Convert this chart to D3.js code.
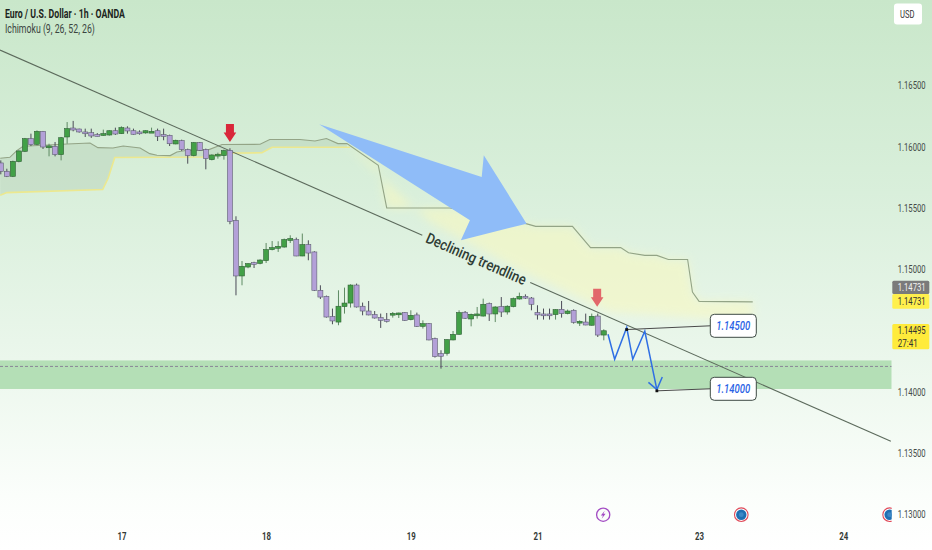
<!DOCTYPE html>
<html><head><meta charset="utf-8">
<script src="https://cdnjs.cloudflare.com/ajax/libs/d3/7.8.5/d3.min.js"></script>
<style>html,body{margin:0;padding:0;background:#fff;overflow:hidden}svg{display:block}
text{font-family:"Roboto","Noto Sans",sans-serif}</style>
</head><body><svg id="c" width="932" height="550"></svg>
<script>
const opens=[1.15864,1.15796,1.15755,1.15875,1.15959,1.16062,1.16016,1.16122,1.15994,1.16000,
1.15932,1.16076,1.16149,1.16141,1.16117,1.16111,1.16095,1.16098,1.16092,1.16127,
1.16103,1.16149,1.16127,1.16117,1.16109,1.16117,1.16127,1.16095,1.16089,1.16019,
1.16046,1.15973,1.15924,1.16030,1.15973,1.15891,1.15927,1.15924,1.15967,1.15396,
1.14942,1.15015,1.15051,1.15045,1.15067,1.15157,1.15168,1.15178,1.15235,1.15239,
1.15105,1.15198,1.15138,1.14825,1.14776,1.14611,1.14566,1.14692,1.14721,1.14868,
1.14695,1.14656,1.14627,1.14602,1.14586,1.14629,1.14629,1.14643,1.14586,1.14624,
1.14531,1.14553,1.14431,1.14309,1.14311,1.14420,1.14466,1.14646,1.14591,1.14619,
1.14615,1.14717,1.14632,1.14692,1.14648,1.14692,1.14754,1.14776,1.14762,1.14643,
1.14632,1.14632,1.14627,1.14670,1.14635,1.14662,1.14564,1.14566,1.14540,1.14615,1.14460];
const closes=[1.15796,1.15755,1.15877,1.15962,1.16062,1.16013,1.16122,1.15994,1.16003,1.15932,
1.16070,1.16144,1.16133,1.16117,1.16111,1.16084,1.16089,1.16103,1.16127,1.16100,
1.16152,1.16125,1.16098,1.16103,1.16127,1.16122,1.16081,1.16089,1.16021,1.16049,
1.15973,1.15924,1.16030,1.15967,1.15899,1.15929,1.15935,1.15965,1.15388,1.14942,
1.15021,1.15043,1.15037,1.15072,1.15157,1.15173,1.15184,1.15239,1.15247,1.15105,
1.15198,1.15129,1.14825,1.14770,1.14607,1.14575,1.14695,1.14721,1.14868,1.14689,
1.14656,1.14624,1.14599,1.14580,1.14580,1.14637,1.14640,1.14580,1.14621,1.14531,
1.14553,1.14420,1.14284,1.14287,1.14423,1.14466,1.14643,1.14597,1.14629,1.14632,
1.14711,1.14632,1.14689,1.14648,1.14695,1.14757,1.14776,1.14762,1.14711,1.14624,
1.14627,1.14627,1.14668,1.14635,1.14656,1.14564,1.14572,1.14542,1.14613,1.14460,1.14495];
const highs=[1.15885,1.15817,1.15883,1.15967,1.16068,1.16103,1.16130,1.16125,1.16021,1.16035,
1.16076,1.16198,1.16207,1.16144,1.16144,1.16144,1.16108,1.16136,1.16130,1.16152,
1.16163,1.16163,1.16144,1.16130,1.16130,1.16152,1.16144,1.16144,1.16095,1.16054,
1.16054,1.15981,1.16035,1.16035,1.15981,1.15935,1.15948,1.15973,1.15984,1.15429,
1.15064,1.15045,1.15058,1.15078,1.15211,1.15227,1.15225,1.15247,1.15274,1.15255,
1.15288,1.15233,1.15144,1.14866,1.14782,1.14676,1.14825,1.14847,1.14874,1.14880,
1.14725,1.14738,1.14656,1.14635,1.14640,1.14648,1.14643,1.14646,1.14662,1.14643,
1.14580,1.14558,1.14439,1.14336,1.14425,1.14493,1.14662,1.14656,1.14635,1.14689,
1.14757,1.14725,1.14695,1.14770,1.14703,1.14766,1.14806,1.14792,1.14770,1.14703,
1.14676,1.14676,1.14670,1.14738,1.14668,1.14670,1.14580,1.14635,1.14635,1.14635,1.14507];
const lows=[1.15771,1.15749,1.15749,1.15869,1.15953,1.16002,1.16008,1.15978,1.15918,1.15918,
1.15885,1.16021,1.16122,1.16111,1.16076,1.16068,1.16081,1.16087,1.16087,1.16092,
1.16100,1.16103,1.16095,1.16095,1.16103,1.16114,1.16043,1.16049,1.16002,1.16016,
1.15962,1.15858,1.15918,1.15962,1.15812,1.15885,1.15899,1.15891,1.15364,1.14784,
1.14866,1.15005,1.15007,1.15037,1.15048,1.15151,1.15138,1.15173,1.15211,1.15103,
1.15103,1.15070,1.14819,1.14754,1.14602,1.14548,1.14540,1.14635,1.14684,1.14684,
1.14621,1.14621,1.14594,1.14518,1.14562,1.14602,1.14599,1.14575,1.14580,1.14526,
1.14513,1.14417,1.14276,1.14186,1.14292,1.14417,1.14464,1.14591,1.14531,1.14594,
1.14611,1.14575,1.14566,1.14607,1.14627,1.14686,1.14749,1.14754,1.14662,1.14586,
1.14586,1.14586,1.14586,1.14602,1.14629,1.14553,1.14534,1.14540,1.14537,1.14444,1.14417];

const spanAIdx=[-0.1,1.5,2.7,3.7,7,11,14.8,16.1,18.6,20.3,23.1,24.7,25.9,28.1,29.2,30.9,34.2,36.7,43,44.6,49.6,52.1,54,55.9,57.4,62.6,64,74.5,87.1,88.7,94.8,97.8,102.8,104.1,106.8,108.8,110.7,113.9,114.7,115.8,124.7];
const spanAVal=[1.15902,1.15910,1.15967,1.16000,1.16008,1.16019,1.16027,1.15989,1.15986,1.16002,1.15986,1.15940,1.15927,1.15924,1.15954,1.15967,1.15967,1.16014,1.16016,1.16055,1.16055,1.16043,1.16063,1.16022,1.16022,1.15845,1.15497,1.15497,1.15369,1.15347,1.15347,1.15173,1.15173,1.15132,1.15110,1.15110,1.15076,1.15076,1.14811,1.14735,1.14731];
const spanBIdx=[-0.1,1,16.9,17.8,18.9,34.2,37.2,43.3,45,57.9,71.2,86.1,101,116,124.7];
const spanBVal=[1.15600,1.15622,1.15647,1.15739,1.15908,1.15913,1.15943,1.15947,1.15992,1.15992,1.15380,1.14988,1.14646,1.14597,1.14597];
const lastBullIdx=57.4;

const trendIdx=[-0.13,69.9,87.8,147.6];
const trendVal=[1.16785,1.15275,1.14888,1.13593];
const bigArrowIdx=[52.8,79.75,80.1,87.2,76.3,77.8];
const bigArrowVal=[1.16180,1.15750,1.15927,1.15369,1.15233,1.15396];
const zigIdx=[100.7,101.8,103.8,104.8,106.8,108.8];
const zigVal=[1.14466,1.14262,1.14521,1.14262,1.14491,1.14015];
const headIdx=[107.4,108.8,109.7];
const headVal=[1.14074,1.14015,1.14118];
const zoneTop=1.14253, zoneBottom=1.14020, dashedPrice=1.14204;
const priceTicks=[1.165,1.16,1.155,1.15,1.14,1.135,1.13];
const timeTicks=[20,44,68,89,115.8,139.7];
const timeLabels=["17","18","19","21","23","24"];
const downArrows=[{i:38,p:1.16035,c:"#d9273a"},{i:98.9,p:1.14691,c:"#e2686a"}];
const callouts=[{i:103.8,p:1.14500,t:"1.14500"},{i:108.8,p:1.14000,t:"1.14000"}];
const events=[{i:99.9,k:"bolt"},{i:122.8,k:"earth"},{i:147.4,k:"earth"}];

const W=932,H=550,R=891.7;
const svg=d3.select("#c");
const x=d3.scaleLinear().domain([0,140]).range([0.8,845]);
const y=d3.scaleLinear().domain([1.13,1.165]).range([514,85]);
// squeeze text horizontally to a wanted width (the reference uses a narrow face)
const fit=(sel,w)=>sel.each(function(){
  const n=d3.select(this),px=+n.attr("x")||0,k=w/this.getComputedTextLength(),prev=n.attr("transform")||"";
  n.attr("transform",`${prev} translate(${px},0) scale(${k},1) translate(${-px},0)`);
});
const defs=svg.append("defs");
const bg=defs.append("linearGradient").attr("id","bg").attr("x1",0).attr("y1",0).attr("x2",0).attr("y2",1);
[[0,"#c9e7ca"],[0.35,"#d9efdb"],[0.62,"#e9f6ea"],[0.9,"#fbfefb"],[1,"#ffffff"]].forEach(s=>bg.append("stop").attr("offset",s[0]).attr("stop-color",s[1]));
defs.append("clipPath").attr("id","pane").append("rect").attr("width",R).attr("height",H);
defs.append("filter").attr("id","soft").attr("x","-10%").attr("y","-10%").attr("width","120%").attr("height","120%")
  .append("feGaussianBlur").attr("stdDeviation",5);
defs.append("filter").attr("id","s1").append("feGaussianBlur").attr("stdDeviation",0.3);
svg.append("rect").attr("width",W).attr("height",H).attr("fill","url(#bg)");
const pane=svg.append("g").attr("clip-path","url(#pane)");

pane.append("rect").attr("x",0).attr("width",R).attr("y",y(zoneTop)).attr("height",y(zoneBottom)-y(zoneTop)).attr("fill","#b4dfb6");
pane.append("line").attr("x1",0).attr("x2",R).attr("y1",y(dashedPrice)).attr("y2",y(dashedPrice))
 .attr("stroke","#7e6f8e").attr("stroke-width",0.8).attr("stroke-dasharray","3 2");

function val(ix,vs,t){for(let k=1;k<ix.length;k++){if(t<=ix[k]){const f=(t-ix[k-1])/(ix[k]-ix[k-1]);return vs[k-1]+f*(vs[k]-vs[k-1]);}}return vs[vs.length-1];}
const grid=[...new Set([...spanAIdx,...spanBIdx])].sort((a,b)=>a-b);
const area=d3.area().x(d=>x(d)).y0(d=>y(val(spanBIdx,spanBVal,d))).y1(d=>y(val(spanAIdx,spanAVal,d)));
const g1=grid.filter(d=>d<=lastBullIdx), g2=grid.filter(d=>d>=lastBullIdx);
pane.append("path").attr("d",area(g1)).attr("fill","#a9c4a9").attr("opacity",0.33);
pane.append("path").attr("d",area(g2)).attr("fill","#f8f8c0").attr("opacity",0.58).attr("filter","url(#soft)");
const ln=d3.line().x(d=>x(d[0])).y(d=>y(d[1]));
const pts=(a,b)=>a.map((d,i)=>[d,b[i]]);
const lowerVisible=pts(spanBIdx,spanBVal).filter(d=>d[0]<=lastBullIdx+1);
pane.append("path").attr("d",ln(lowerVisible)).attr("fill","none").attr("stroke","#ece88f").attr("stroke-width",1.6);
pane.append("path").attr("d",ln(pts(spanAIdx,spanAVal))).attr("fill","none").attr("stroke","#93a486").attr("stroke-width",1.1);

[[0,1],[2,3]].forEach(p=>{
 pane.append("line").attr("x1",x(trendIdx[p[0]])).attr("y1",y(trendVal[p[0]])).attr("x2",x(trendIdx[p[1]])).attr("y2",y(trendVal[p[1]]))
 .attr("stroke","#5c6a5c").attr("stroke-width",1.1);
});
const tx=(x(trendIdx[1])+x(trendIdx[2]))/2, ty=(y(trendVal[1])+y(trendVal[2]))/2;
const ang=Math.atan2(y(trendVal[2])-y(trendVal[1]),x(trendIdx[2])-x(trendIdx[1]))*180/Math.PI;
fit(svg.append("text").attr("transform",`translate(${tx-54*Math.cos(ang*Math.PI/180)},${ty-54*Math.sin(ang*Math.PI/180)}) rotate(${ang})`).attr("dy","0.35em")
 .attr("font-size",15).attr("font-weight",500).attr("fill","#2f3d35").text("Declining trendline"),108);

const candles=opens.map((o,i)=>({i,o,c:closes[i],h:highs[i],l:lows[i]}));
const cg=pane.append("g").attr("filter","url(#s1)");
const cs=cg.selectAll("g").data(candles).join("g");
cs.append("line").attr("x1",d=>x(d.i)).attr("x2",d=>x(d.i)).attr("y1",d=>y(d.h)).attr("y2",d=>y(d.l))
 .attr("stroke",d=>d.c>=d.o?"#5f8a63":"#4b4b57").attr("stroke-width",1);
cs.append("rect").attr("x",d=>x(d.i)-2.5).attr("width",5)
 .attr("y",d=>Math.min(y(d.o),y(d.c))).attr("height",d=>Math.max(1.8,Math.abs(y(d.o)-y(d.c))))
 .attr("fill",d=>d.c>=d.o?"#43a047":"#b3a0d8").attr("stroke",d=>d.c>=d.o?"#2f5f35":"#5f5f72").attr("stroke-width",0.6);

pane.append("polygon").attr("points",bigArrowIdx.map((d,i)=>[x(d),y(bigArrowVal[i])].join(",")).join(" ")).attr("fill","#8fbcf8");

downArrows.forEach(a=>{
 const X=x(a.i),Y=y(a.p);
 pane.append("path").attr("d",`M${X},${Y}l-6.3,-9.5h2.3v-8.5h8v8.5h2.3z`).attr("fill",a.c);
});

const blue="#2f6fe4";
pane.append("path").attr("d",ln(pts(zigIdx,zigVal))).attr("fill","none").attr("stroke",blue).attr("stroke-width",1.5);
pane.append("path").attr("d",ln(pts(headIdx,headVal))).attr("fill","none").attr("stroke",blue).attr("stroke-width",1.5);

callouts.forEach((c,k)=>{
 const px=x(c.i),py=y(c.p)-0.6;
 const bx=710.3,bw=46,bh=23,by=k?377.3:314.3;
 svg.append("line").attr("x1",px).attr("y1",py).attr("x2",bx).attr("y2",by+11.5).attr("stroke","#4a4a4a").attr("stroke-width",1);
 svg.append("rect").attr("x",px-1.4).attr("y",py-1.4).attr("width",2.8).attr("height",2.8).attr("fill","#111");
 svg.append("rect").attr("x",bx).attr("y",by).attr("width",bw).attr("height",bh).attr("rx",4).attr("fill","#fff").attr("stroke","#3e4a44").attr("stroke-width",1);
 fit(svg.append("text").attr("x",bx+6).attr("y",by+bh/2).attr("dy","0.36em").attr("font-size",13).attr("font-weight",500).attr("font-style","italic").attr("fill","#2962e5").text(c.t),34);
});

events.forEach(e=>{
 const g=pane.append("g").attr("transform",`translate(${x(e.i)},514.7)`);
 if(e.k==="bolt"){
  g.append("circle").attr("r",6.6).attr("fill","#fafdfa").attr("stroke","#a24ac3").attr("stroke-width",1.3);
  g.append("path").attr("d","M1.5,-4L-2.4,0.8H-0.2L-1.5,4L2.4,-0.9H0.2z").attr("fill","#a24ac3");
 }else{
  g.append("circle").attr("r",6.8).attr("fill","#fff").attr("stroke","#e04b5a").attr("stroke-width",1.1);
  g.append("circle").attr("r",5.2).attr("fill","#1f6fb2");
  g.append("circle").attr("r",2.4).attr("fill","#3d88c6");
 }
});

const yAxis=d3.axisRight(y).tickValues(priceTicks).tickFormat(d3.format(".5f")).tickSize(0).tickPadding(0);
const ya=svg.append("g").attr("transform","translate(897.7,0)").call(yAxis);
ya.select(".domain").remove();
fit(ya.selectAll("text").attr("font-size",11).attr("fill","#444b47").attr("dy","0.35em"),28);
const xAxis=d3.axisBottom(x).tickValues(timeTicks).tickFormat((d,i)=>timeLabels[i]).tickSize(0).tickPadding(0);
const xa=svg.append("g").attr("transform","translate(0,532)").call(xAxis);
xa.select(".domain").remove();
fit(xa.selectAll("text").attr("font-size",11).attr("font-weight","bold").attr("fill","#333a36"),9);

function tag(yy,h,fill,lines,col){
 svg.append("rect").attr("x",892.3).attr("y",yy).attr("width",37).attr("height",h).attr("rx",1.5).attr("fill",fill);
 lines.forEach((t,i)=>fit(svg.append("text").attr("x",897.7).attr("y",yy+h/lines.length*(i+0.5)).attr("dy","0.35em").attr("font-size",11).attr("fill",col).text(t),t.length>5?28:20));
}
tag(280.7,13.3,"#7b7b7b",["1.14731"],"#f2f2f2");
tag(294,14.7,"#fff04d",["1.14731"],"#333");
tag(324,25.3,"#ffeb3b",["1.14495","27:41"],"#333");

svg.append("rect").attr("x",894).attr("y",3.5).attr("width",28).attr("height",21).attr("rx",3).attr("fill","#fff");
fit(svg.append("text").attr("x",900).attr("y",14).attr("dy","0.35em").attr("font-size",10.5).attr("fill","#333").text("USD"),14.5);

fit(svg.append("text").attr("x",5).attr("y",14).attr("dy","0.35em").attr("font-size",12).attr("font-weight","bold").attr("fill","#1c2420").text("Euro / U.S. Dollar · 1h · OANDA"),120);
fit(svg.append("text").attr("x",5).attr("y",29).attr("dy","0.35em").attr("font-size",12).attr("fill","#3a4440").text("Ichimoku (9, 26, 52, 26)"),90);
</script></body></html>
